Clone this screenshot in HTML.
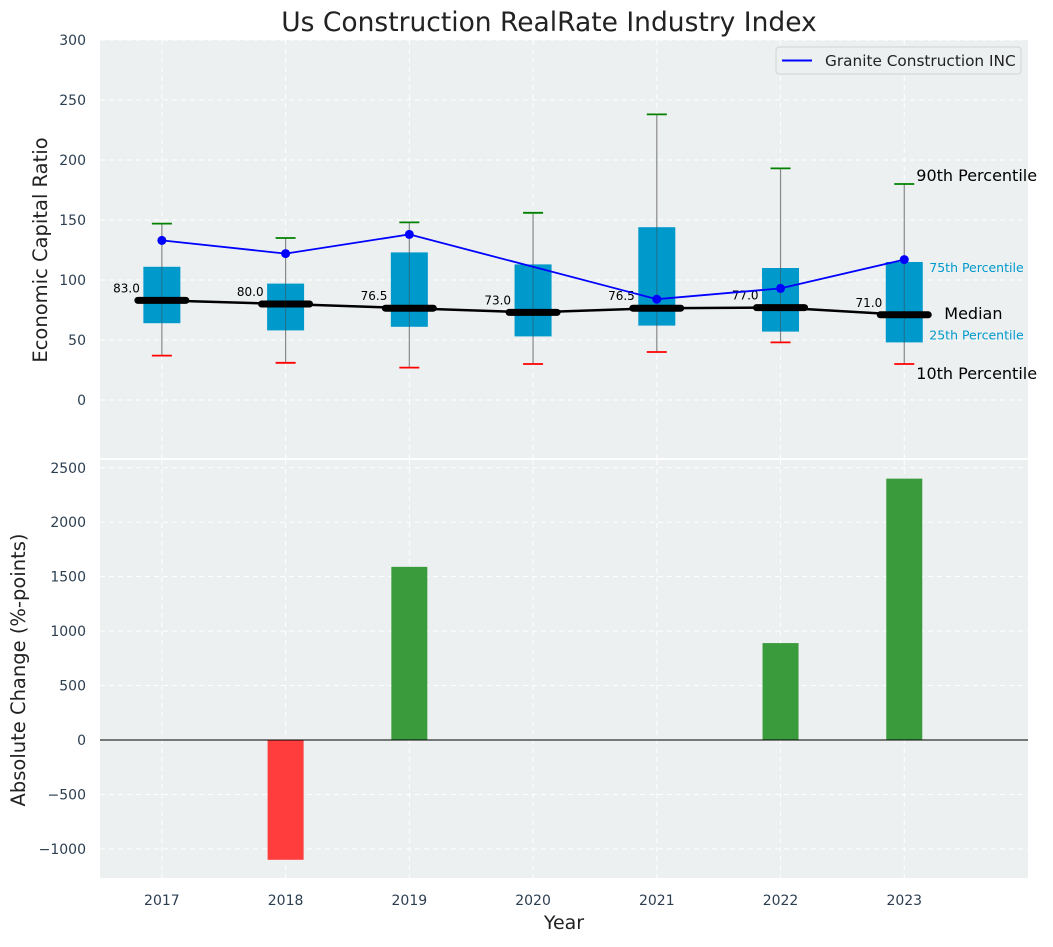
<!DOCTYPE html>
<html><head><meta charset="utf-8"><style>
body{margin:0;background:#fff;}
svg text{font-family:"DejaVu Sans","Liberation Sans",sans-serif;}
</style></head><body>
<svg id="c" width="1053" height="942" xmlns="http://www.w3.org/2000/svg"></svg>
<script>
const years=["2017","2018","2019","2020","2021","2022","2023"];
const p10=[37,31,27,30,40,48,30];
const q1=[64,58,61,53,62,57,48];
const med=[83,80,76.5,73,76.5,77,71];
const q3=[111,97,123,113,144,110,115];
const p90=[147,135,148,156,238,193,180];
const granite=[133,122,138,null,84,93,117];
const change=[0,-1100,1590,0,0,890,2400];
const topTicks=[0,50,100,150,200,250,300];
const botTicks=[-1000,-500,0,500,1000,1500,2000,2500];

const svg=document.getElementById('c');const NS='http://www.w3.org/2000/svg';
function el(t,a,txt){const e=document.createElementNS(NS,t);for(const k in a)e.setAttribute(k,a[k]);if(txt!==undefined)e.textContent=txt;svg.appendChild(e);return e;}
const L=100,R=1028;
const x=i=>L+(i+0.5)/7.5*(R-L);
const yT=v=>400-v*1.2;
const yB=v=>740-v*(54.45/500);
const tc='#2c3e50';

let e=el('rect',{x:L,y:40,width:R-L,height:420,fill:'#ecf0f1'});

e=el('rect',{x:L,y:460,width:R-L,height:418,fill:'#ecf0f1'});

el('line',{x1:L,x2:R,y1:459,y2:459,stroke:'#fff','stroke-width':2});

topTicks.forEach(t=>{e=el('line',{x1:L,x2:R,y1:yT(t),y2:yT(t),stroke:'#fff','stroke-dasharray':'5,4','stroke-width':1});
e=el('text',{x:86,y:yT(t)+5,'text-anchor':'end','font-size':14,fill:tc},t);});
botTicks.forEach(t=>{e=el('line',{x1:L,x2:R,y1:yB(t),y2:yB(t),stroke:'#fff','stroke-dasharray':'5,4','stroke-width':1});
e=el('text',{x:86,y:yB(t)+5,'text-anchor':'end','font-size':14,fill:tc},t.toString().replace('-','\u2212'));});
years.forEach((yr,i)=>{
[[40,460],[460,878]].forEach(r=>{e=el('line',{x1:x(i),x2:x(i),y1:r[0],y2:r[1],stroke:'#fff','stroke-dasharray':'5,4'});});
e=el('text',{x:x(i),y:905,'text-anchor':'middle','font-size':14,fill:tc},yr);
});

years.forEach((yr,i)=>{const cx=x(i);
e=el('line',{x1:cx,x2:cx,y1:yT(p10[i]),y2:yT(p90[i]),stroke:'#888','stroke-width':1.2});
e=el('rect',{x:cx-18.5,y:yT(q3[i]),width:37,height:yT(q1[i])-yT(q3[i]),fill:'#0099cc'});
el('line',{x1:cx,x2:cx,y1:yT(q3[i]),y2:yT(q1[i]),stroke:'#444','stroke-width':1,opacity:0.5});
e=el('line',{x1:cx-10,x2:cx+10,y1:yT(p90[i]),y2:yT(p90[i]),stroke:'green','stroke-width':1.8});
e=el('line',{x1:cx-10,x2:cx+10,y1:yT(p10[i]),y2:yT(p10[i]),stroke:'red','stroke-width':1.8});
});
e=el('polyline',{points:med.map((m,i)=>x(i)+','+yT(m)).join(' '),fill:'none',stroke:'#000','stroke-width':2.5});
years.forEach((yr,i)=>{const cx=x(i);
e=el('line',{x1:cx-24,x2:cx+24,y1:yT(med[i]),y2:yT(med[i]),stroke:'#000','stroke-width':7,'stroke-linecap':'round'});
e=el('text',{x:cx-22,y:yT(med[i])-8,'text-anchor':'end','font-size':12,fill:'#000'},med[i].toFixed(1));
});
const gp=granite.map((g,i)=>g==null?null:[x(i),yT(g)]).filter(p=>p);
e=el('polyline',{points:gp.map(p=>p.join(',')).join(' '),fill:'none',stroke:'blue','stroke-width':1.8});
gp.forEach(p=>{e=el('circle',{cx:p[0],cy:p[1],r:4.5,fill:'blue'});});

const lx=x(6);
e=el('text',{x:lx+12,y:yT(p90[6])-3,'font-size':16,fill:'#000'},'90th Percentile');
e=el('text',{x:lx+12,y:yT(p10[6])+15,'font-size':16,fill:'#000'},'10th Percentile');
e=el('text',{x:lx+40,y:yT(med[6])+4,'font-size':16,fill:'#000'},'Median');
e=el('text',{x:lx+25,y:yT(q3[6])+10,'font-size':12.5,fill:'#0099cc'},'75th Percentile');
e=el('text',{x:lx+25,y:yT(q1[6])-3,'font-size':12.5,fill:'#0099cc'},'25th Percentile');

e=el('rect',{x:776,y:47,width:245,height:27,rx:3,fill:'#ecf0f1',stroke:'#d0d4d6'});
el('line',{x1:782,x2:812,y1:60.5,y2:60.5,stroke:'blue','stroke-width':2});
e=el('text',{x:825,y:66,'font-size':15.3,fill:'#222'},'Granite Construction INC');

change.forEach((v,i)=>{if(v===0)return;const y0=yB(0),y1=yB(v);
e=el('rect',{x:x(i)-18,y:Math.min(y0,y1),width:36,height:Math.abs(y1-y0),fill:v>0?'#3a9b3c':'#ff3d3d'});});
e=el('line',{x1:L,x2:R,y1:yB(0),y2:yB(0),stroke:'#000','stroke-width':1});

e=el('text',{x:549,y:31,'text-anchor':'middle','font-size':26.5,fill:'#222'},'Us Construction RealRate Industry Index');
e=el('text',{x:47,y:250,'text-anchor':'middle','font-size':19.5,fill:'#222',transform:'rotate(-90 47 250)'},'Economic Capital Ratio');
e=el('text',{x:25,y:670,'text-anchor':'middle','font-size':19.5,fill:'#222',transform:'rotate(-90 25 670)'},'Absolute Change (%-points)');
e=el('text',{x:564,y:929,'text-anchor':'middle','font-size':19,fill:'#222'},'Year');
</script>
</body></html>
